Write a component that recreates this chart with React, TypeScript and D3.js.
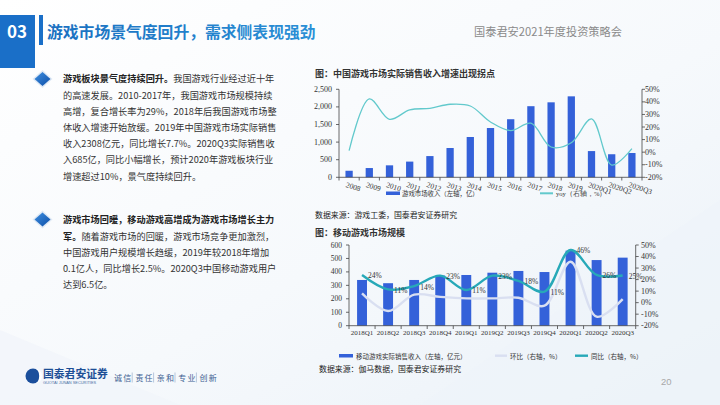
import React from 'react';
import * as d3 from 'd3';

// ---------- Chart 1 data ----------
const years = ['2008', '2009', '2010', '2011', '2012', '2013', '2014', '2015', '2016', '2017', '2018', '2019', '2020Q1', '2020Q2', '2020Q3'];
const revenue = [186, 263, 340, 446, 603, 832, 1145, 1400, 1650, 2020, 2130, 2300, 745, 655, 690];
const yoy = [1.2, 42.3, 26.1, 33.6, 34.9, 38.1, 36.7, 24.0, 17.2, 23.0, 4.1, 7.5, 26.4, -10.3, 2.8];
const leftTicks1 = [0, 500, 1000, 1500, 2000, 2500];
const rightTicks1 = [-20, -10, 0, 10, 20, 30, 40, 50];

// ---------- Chart 2 data ----------
const quarters = ['2018Q1', '2018Q2', '2018Q3', '2018Q4', '2019Q1', '2019Q2', '2019Q3', '2019Q4', '2020Q1', '2020Q2', '2020Q3'];
const mobileRevenue = [340, 316, 340, 373, 377, 394, 407, 399, 558, 488, 506];
const qoq = [8, -7.3, 7, 5, 3.7, 3.7, 4.3, -2.6, 35.5, -12.2, 3.1];
const yoyMobile = [24, 11.5, 14.4, 23.4, 11, 23.4, 18.8, 9.5, 45.7, 24, 23.5];
const yoyMobileLabels = ['24%', '11%', '14%', '23%', '11%', '23%', '18%', '11%', '46%', '26%', '25%'];
const leftTicks2 = [0, 100, 200, 300, 400, 500, 600];
const rightTicks2 = [-20, -10, 0, 10, 20, 30, 40, 50];

// ---------- Text ----------
const block1 = [
  { b: '游戏板块景气度持续回升。', t: '我国游戏行业经过近十年' },
  { b: '', t: '的高速发展。2010-2017年，我国游戏市场规模持续' },
  { b: '', t: '高增，复合增长率为29%，2018年后我国游戏市场整' },
  { b: '', t: '体收入增速开始放缓。2019年中国游戏市场实际销售' },
  { b: '', t: '收入2308亿元，同比增长7.7%。2020Q3实际销售收' },
  { b: '', t: '入685亿，同比小幅增长，预计2020年游戏板块行业' },
  { b: '', t: '增速超过10%，景气度持续回升。' },
];
const block2 = [
  { b: '游戏市场回暖，移动游戏高增成为游戏市场增长主力', t: '' },
  { b: '军。', t: '随着游戏市场的回暖，游戏市场竞争更加激烈，' },
  { b: '', t: '中国游戏用户规模增长趋缓，2019年较2018年增加' },
  { b: '', t: '0.1亿人，同比增长2.5%。2020Q3中国移动游戏用户' },
  { b: '', t: '达到6.5亿。' },
];
const slogan = ['诚信', '责任', '亲和', '专业', '创新'];

const CJK = '"Noto Sans CJK SC", "Noto Sans", sans-serif';
const SERIF = '"Liberation Serif", "DejaVu Serif", serif';
const BAR = '#3461d9';

function Diamond({ cx, cy }: { cx: number; cy: number }) {
  return (
    <g>
      <polygon points={`${cx},${cy - 9} ${cx + 10},${cy} ${cx},${cy + 9} ${cx - 10},${cy}`} fill="#dfe9f5" />
      <polygon points={`${cx},${cy - 7} ${cx + 8},${cy} ${cx},${cy + 7} ${cx - 8},${cy}`} fill="url(#dia)" />
    </g>
  );
}

function TextBlock({ lines, y0, dy }: { lines: { b: string; t: string }[]; y0: number; dy: number }) {
  return (
    <g fontFamily={CJK} fontSize={9.2} fill="#333">
      {lines.map((l, i) => (
        <text key={i} x={63} y={y0 + i * dy} dominantBaseline="central">
          {l.b ? <tspan fontWeight="bold" fill="#222">{l.b}</tspan> : null}
          {l.t ? <tspan>{l.t}</tspan> : null}
        </text>
      ))}
    </g>
  );
}

export default function App() {
  // Chart 1 scales
  const x1 = d3.scaleBand<string>().domain(years).range([339, 642]).paddingInner(0.64).paddingOuter(0.32);
  const yL1 = d3.scaleLinear().domain([0, 2500]).range([177.3, 89.3]);
  const yR1 = d3.scaleLinear().domain([-20, 50]).range([177.3, 89.3]);
  const cx1 = (d: string) => (x1(d) as number) + x1.bandwidth() / 2;
  const line1 = d3.line<number>().x((_, i) => cx1(years[i])).y((v) => yR1(v)).curve(d3.curveCatmullRom.alpha(0.5));
  const step1 = x1.step();

  // Chart 2 scales
  const x2 = d3.scaleBand<string>().domain(quarters).range([349, 635.7]).paddingInner(0.62).paddingOuter(0.31);
  const yL2 = d3.scaleLinear().domain([0, 600]).range([325.7, 245]);
  const yR2 = d3.scaleLinear().domain([-20, 50]).range([325.7, 245]);
  const cx2 = (d: string) => (x2(d) as number) + x2.bandwidth() / 2;
  const lineQ = d3.line<number>().x((_, i) => cx2(quarters[i])).y((v) => yR2(v)).curve(d3.curveCatmullRom.alpha(0.5));
  const step2 = x2.step();

  return (
    <svg width={720} height={405} style={{ position: 'absolute', left: 0, top: 0 }} xmlns="http://www.w3.org/2000/svg">
      <defs>
        <linearGradient id="bg" x1="0" y1="0" x2="1" y2="1">
          <stop offset="0" stopColor="#ffffff" />
          <stop offset="0.55" stopColor="#f6f9fc" />
          <stop offset="1" stopColor="#eaf1f8" />
        </linearGradient>
        <linearGradient id="dia" x1="0" y1="0" x2="1" y2="1">
          <stop offset="0" stopColor="#3f8fe0" />
          <stop offset="1" stopColor="#0d4fa8" />
        </linearGradient>
        <linearGradient id="ttl" x1="0" y1="0" x2="1" y2="0">
          <stop offset="0" stopColor="#1a6fc0" />
          <stop offset="1" stopColor="#2a8fd6" />
        </linearGradient>
      </defs>
      <rect x={0} y={0} width={720} height={405} fill="url(#bg)" />
      <polygon points="420,405 720,200 720,405" fill="#eef3f9" opacity={0.7} />
      <polygon points="0,330 180,405 0,405" fill="#f1f5fa" opacity={0.8} />

      {/* Header */}
      <rect x={0} y={15} width={35} height={53} fill="#1a6fc8" />
      <text x={17} y={30} fill="#fff" fontFamily={CJK} fontWeight="bold" fontSize={17} textAnchor="middle" dominantBaseline="central">03</text>
      <rect x={39} y={15} width={4} height={30} fill="#1a6fc8" />
      <text x={47} y={31} fill="url(#ttl)" fontFamily={CJK} fontWeight="bold" fontSize={15.8} dominantBaseline="central">游戏市场景气度回升，需求侧表现强劲</text>
      <text x={474} y={31} fill="#8a8a8a" fontFamily={CJK} fontSize={11.2} dominantBaseline="central">国泰君安2021年度投资策略会</text>

      {/* Left text */}
      <Diamond cx={42.5} cy={79} />
      <TextBlock lines={block1} y0={78.3} dy={16.2} />
      <Diamond cx={42.5} cy={219.5} />
      <TextBlock lines={block2} y0={219.3} dy={16.25} />

      {/* Chart 1 */}
      <text x={315} y={73.3} fontFamily={CJK} fontSize={9} fontWeight="bold" fill="#333" dominantBaseline="central">图：中国游戏市场实际销售收入增速出现拐点</text>
      <g>
        {revenue.map((v, i) => (
          <rect key={i} x={x1(years[i])} y={yL1(v)} width={x1.bandwidth()} height={yL1(0) - yL1(v)} fill={BAR} />
        ))}
        <path d={line1(yoy) || ''} fill="none" stroke="#62c9cc" strokeWidth={1.3} />
        <line x1={339} x2={339} y1={89.3} y2={177.3} stroke="#444" strokeWidth={0.8} />
        <line x1={642} x2={642} y1={89.3} y2={177.3} stroke="#444" strokeWidth={0.8} />
        <line x1={339} x2={642} y1={177.3} y2={177.3} stroke="#444" strokeWidth={0.8} />
        {leftTicks1.map((t) => (
          <g key={t}>
            <line x1={336} x2={339} y1={yL1(t)} y2={yL1(t)} stroke="#444" strokeWidth={0.8} />
            <text x={332} y={yL1(t)} textAnchor="end" dominantBaseline="central" fontFamily={SERIF} fontSize={8} fill="#333">{d3.format(',')(t)}</text>
          </g>
        ))}
        {rightTicks1.map((t) => (
          <g key={t}>
            <line x1={642} x2={645} y1={yR1(t)} y2={yR1(t)} stroke="#444" strokeWidth={0.8} />
            <text x={645} y={yR1(t)} dominantBaseline="central" fontFamily={SERIF} fontSize={8} fill="#333">{`${t}%`}</text>
          </g>
        ))}
        {d3.range(years.length + 1).map((i) => (
          <line key={i} x1={339 + i * step1} x2={339 + i * step1} y1={177.3} y2={180.5} stroke="#444" strokeWidth={0.8} />
        ))}
        {years.map((yr) => (
          <text key={yr} x={cx1(yr) - 3} y={184.5} transform={`rotate(18 ${cx1(yr) - 3} 184.5)`} fontFamily={SERIF} fontSize={7.5} fill="#333" dominantBaseline="central">{yr}</text>
        ))}
        <rect x={386} y={191.5} width={14} height={3.5} fill={BAR} />
        <text x={402} y={193.3} fontFamily={CJK} fontSize={6.4} fill="#333" dominantBaseline="central">游戏市场收入（左轴，亿）</text>
        <line x1={540} x2={553} y1={193.3} y2={193.3} stroke="#62c9cc" strokeWidth={2} />
        <text x={556} y={193.3} fontFamily={SERIF} fontSize={6.6} fill="#333" dominantBaseline="central">yoy（右轴，%）</text>
      </g>
      <text x={315} y={214} fontFamily={CJK} fontSize={7.9} fill="#222" dominantBaseline="central">数据来源：游戏工委，国泰君安证券研究</text>

      {/* Chart 2 */}
      <text x={315} y={232.3} fontFamily={CJK} fontSize={9} fontWeight="bold" fill="#333" dominantBaseline="central">图：移动游戏市场规模</text>
      <g>
        {mobileRevenue.map((v, i) => (
          <rect key={i} x={x2(quarters[i])} y={yL2(v)} width={x2.bandwidth()} height={yL2(0) - yL2(v)} fill={BAR} />
        ))}
        <path d={lineQ(qoq) || ''} fill="none" stroke="#d9dff1" strokeWidth={2.4} />
        <path d={lineQ(yoyMobile) || ''} fill="none" stroke="#27a9b8" strokeWidth={2.4} />
        {yoyMobile.map((v, i) => (
          <text key={i} x={cx2(quarters[i]) + 6} y={yR2(v) + 1} fontFamily={SERIF} fontSize={7.5} fill="#333" dominantBaseline="central">{yoyMobileLabels[i]}</text>
        ))}
        <line x1={349} x2={349} y1={245} y2={325.7} stroke="#444" strokeWidth={0.8} />
        <line x1={635.7} x2={635.7} y1={245} y2={325.7} stroke="#444" strokeWidth={0.8} />
        <line x1={349} x2={635.7} y1={325.7} y2={325.7} stroke="#444" strokeWidth={0.8} />
        {leftTicks2.map((t) => (
          <g key={t}>
            <line x1={346} x2={349} y1={yL2(t)} y2={yL2(t)} stroke="#444" strokeWidth={0.8} />
            <text x={342} y={yL2(t)} textAnchor="end" dominantBaseline="central" fontFamily={SERIF} fontSize={7.5} fill="#333">{t}</text>
          </g>
        ))}
        {rightTicks2.map((t) => (
          <g key={t}>
            <line x1={635.7} x2={638.7} y1={yR2(t)} y2={yR2(t)} stroke="#444" strokeWidth={0.8} />
            <text x={641} y={yR2(t)} dominantBaseline="central" fontFamily={SERIF} fontSize={8} fill="#333">{`${t}%`}</text>
          </g>
        ))}
        {d3.range(quarters.length + 1).map((i) => (
          <line key={i} x1={349 + i * step2} x2={349 + i * step2} y1={325.7} y2={329} stroke="#444" strokeWidth={0.8} />
        ))}
        {quarters.map((q) => (
          <text key={q} x={cx2(q)} y={332.5} textAnchor="middle" fontFamily={SERIF} fontSize={7} fill="#333" dominantBaseline="central">{q}</text>
        ))}
        <rect x={339} y={354} width={14} height={3.5} fill={BAR} />
        <text x={356} y={355.7} fontFamily={CJK} fontSize={6.5} fill="#333" dominantBaseline="central">移动游戏实际销售收入（左轴，亿元）</text>
        <line x1={495} x2={507} y1={355.7} y2={355.7} stroke="#d9dff1" strokeWidth={2.4} />
        <text x={510} y={355.7} fontFamily={CJK} fontSize={6.5} fill="#333" dominantBaseline="central">环比（右轴，%）</text>
        <line x1={575} x2={588} y1={355.7} y2={355.7} stroke="#27a9b8" strokeWidth={2.4} />
        <text x={591} y={355.7} fontFamily={CJK} fontSize={6.5} fill="#333" dominantBaseline="central">同比（右轴，%）</text>
      </g>
      <text x={319} y={368} fontFamily={CJK} fontSize={7.9} fill="#222" dominantBaseline="central">数据来源：伽马数据，国泰君安证券研究</text>

      {/* Footer */}
      <circle cx={33} cy={376} r={7.5} fill="#1b4f9c" />
      <path d="M 34.8 368.7 A 7.3 7.3 0 0 1 34.8 383.3 A 4.4 7.3 0 0 0 34.8 368.7 Z" fill="#ffffff" />
      <text x={43} y={373} fontFamily={CJK} fontWeight="bold" fontSize={10.8} fill="#1d4f96" dominantBaseline="central">国泰君安证券</text>
      <text x={43} y={382.6} fontFamily={'"Liberation Sans", sans-serif'} fontSize={3.9} fill="#4a6fa5" dominantBaseline="central">GUOTAI JUNAN SECURITIES</text>
      {slogan.map((w, i) => (
        <g key={w}>
          <text x={114 + i * 21.4} y={377.5} fontFamily={CJK} fontSize={8} fill="#3d5f92" dominantBaseline="central" letterSpacing={1.2}>{w}</text>
          {i < slogan.length - 1 ? (
            <line x1={132.2 + i * 21.4} x2={132.2 + i * 21.4} y1={372.5} y2={382.5} stroke="#8da3c4" strokeWidth={0.6} />
          ) : null}
        </g>
      ))}
      <text x={661} y={381} fontFamily={'"Liberation Sans", sans-serif'} fontSize={9.5} fill="#a8a8a8" dominantBaseline="central">20</text>
    </svg>
  );
}
